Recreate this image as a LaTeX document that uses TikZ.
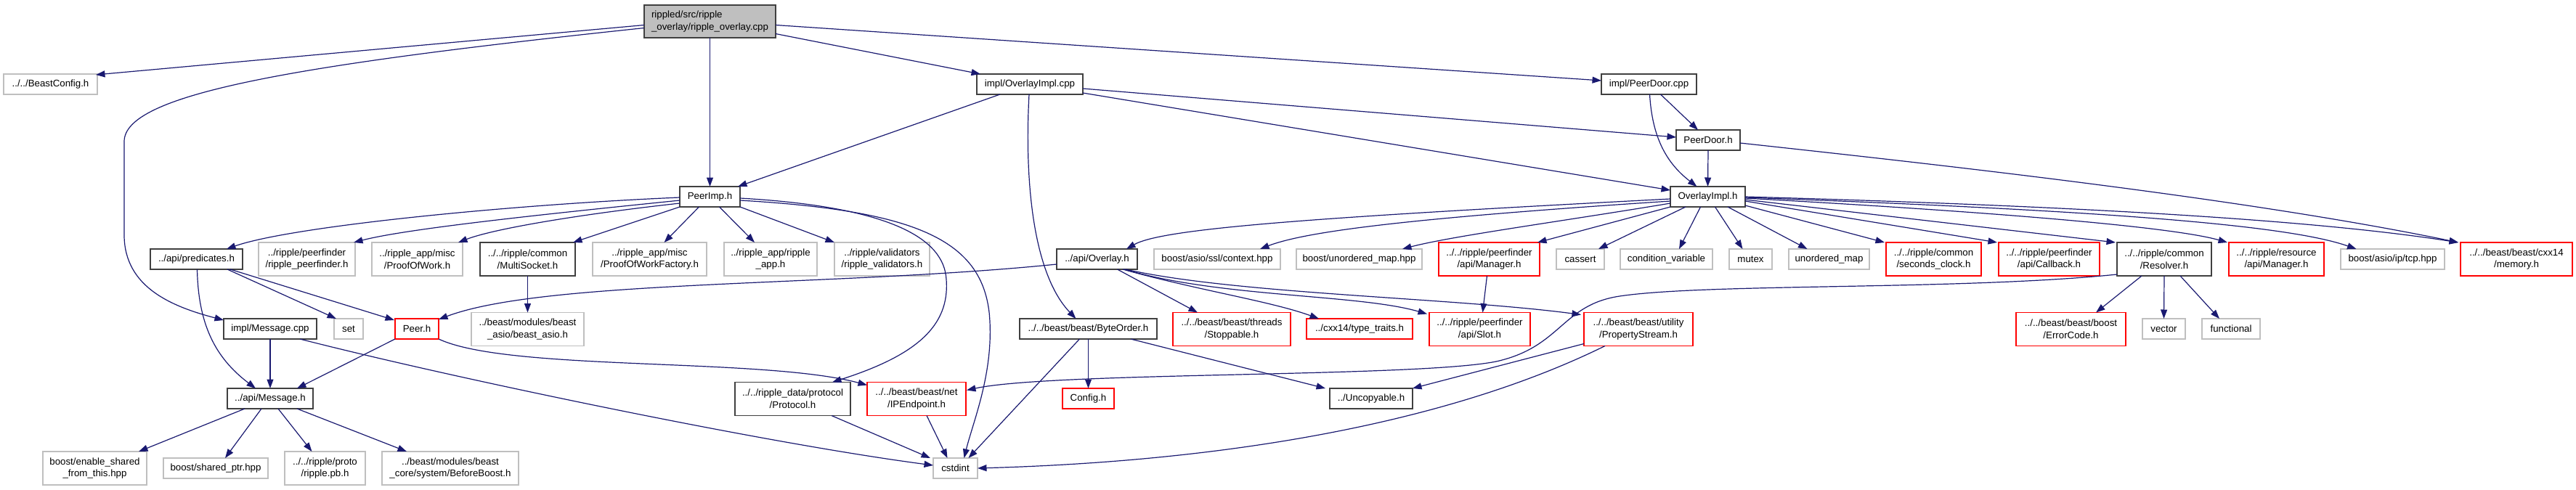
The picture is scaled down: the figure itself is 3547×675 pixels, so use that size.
\documentclass[tikz,border=0pt]{standalone}
\usepackage{fontspec}
\setmainfont{Liberation Sans}
\usetikzlibrary{arrows.meta,calc}
\definecolor{edgecol}{HTML}{191970}
\definecolor{graybd}{HTML}{BFBFBF}
\definecolor{darkbd}{HTML}{404040}
\definecolor{redbd}{HTML}{FF0000}
\definecolor{rootfill}{HTML}{BFBFBF}
\tikzset{
 file/.style={draw, rectangle, inner sep=0pt, outer sep=0pt, line width=1.6bp, align=center, font=\fontsize{13.3bp}{16.7bp}\selectfont},
 grayfile/.style={file, draw=graybd},
 docfile/.style={file, draw=darkbd},
 redfile/.style={file, draw=redbd},
 oneline/.style={minimum height=28bp},
 twoline/.style={minimum height=46bp},
 dep/.style={draw=edgecol, line width=1.2bp, -{Triangle[length=12.5bp,width=9bp]}},
}
\begin{document}
\begin{tikzpicture}[x=1bp,y=-1bp]
\useasboundingbox (0,0) rectangle (3547,675);
% top
\node[docfile, fill=rootfill, minimum width=181bp, minimum height=45bp, align=left] (root) at (977.5,29.5) {rippled/src/ripple\\\_overlay/ripple\_overlay.cpp};
\node[grayfile, oneline, minimum width=129bp] (beastconfig) at (69.5,116) {../../BeastConfig.h};
\node[docfile, oneline, minimum width=146bp] (ovimplcpp) at (1418,116) {impl/OverlayImpl.cpp};
\node[docfile, oneline, minimum width=131bp] (peerdoorcpp) at (2270.5,116) {impl/PeerDoor.cpp};
\node[docfile, oneline, minimum width=88bp] (peerdoorh) at (2352,193) {PeerDoor.h};
\node[docfile, oneline, minimum width=83bp] (peerimp) at (977.5,271) {PeerImp.h};
\node[docfile, oneline, minimum width=103bp] (ovimplh) at (2351.5,271) {OverlayImpl.h};
% row 4
\node[docfile, oneline, minimum width=127bp] (predicates) at (270.5,357) {../api/predicates.h};
\node[grayfile, twoline, minimum width=133bp] (ripplepeerfinder) at (422.5,357) {../ripple/peerfinder\\/ripple\_peerfinder.h};
\node[grayfile, twoline, minimum width=125bp] (pow) at (574.5,357) {../ripple\_app/misc\\/ProofOfWork.h};
\node[docfile, twoline, minimum width=131bp] (multisocket) at (726.5,357) {../../ripple/common\\/MultiSocket.h};
\node[grayfile, twoline, minimum width=157bp] (powfactory) at (894.5,357) {../ripple\_app/misc\\/ProofOfWorkFactory.h};
\node[grayfile, twoline, minimum width=128bp] (rippleapp) at (1061,357) {../ripple\_app/ripple\\\_app.h};
\node[grayfile, twoline, minimum width=131bp] (validators) at (1214.5,357) {../ripple/validators\\/ripple\_validators.h};
\node[docfile, oneline, minimum width=111bp] (overlayh) at (1510.5,357) {../api/Overlay.h};
\node[grayfile, oneline, minimum width=174bp] (sslcontext) at (1676,357) {boost/asio/ssl/context.hpp};
\node[grayfile, oneline, minimum width=173bp] (unorderedmaphpp) at (1871.5,357) {boost/unordered\_map.hpp};
\node[redfile, twoline, minimum width=139bp] (pfmanager) at (2050.5,357) {../../ripple/peerfinder\\/api/Manager.h};
\node[grayfile, oneline, minimum width=66bp] (cassert) at (2176,357) {cassert};
\node[grayfile, oneline, minimum width=127bp] (condvar) at (2294.5,357) {condition\_variable};
\node[grayfile, oneline, minimum width=59bp] (mutex) at (2410.5,357) {mutex};
\node[grayfile, oneline, minimum width=111bp] (unorderedmap) at (2518.5,357) {unordered\_map};
\node[redfile, twoline, minimum width=131bp] (secondsclock) at (2662.5,357) {../../ripple/common\\/seconds\_clock.h};
\node[redfile, twoline, minimum width=139bp] (callback) at (2821.5,357) {../../ripple/peerfinder\\/api/Callback.h};
\node[docfile, twoline, minimum width=130bp] (resolver) at (2980,357) {../../ripple/common\\/Resolver.h};
\node[redfile, twoline, minimum width=131bp] (resmanager) at (3134.5,357) {../../ripple/resource\\/api/Manager.h};
\node[grayfile, oneline, minimum width=143bp] (tcp) at (3294.5,357) {boost/asio/ip/tcp.hpp};
\node[redfile, twoline, minimum width=154bp] (memory) at (3465,357) {../../beast/beast/cxx14\\/memory.h};
% row 5
\node[docfile, oneline, minimum width=128bp] (msgcpp) at (372,453) {impl/Message.cpp};
\node[grayfile, oneline, minimum width=40bp] (set) at (480,453) {set};
\node[redfile, oneline, minimum width=60bp] (peerh) at (574,453) {Peer.h};
\node[grayfile, twoline, minimum width=155bp] (beastasio) at (726.5,453.5) {../beast/modules/beast\\\_asio/beast\_asio.h};
\node[docfile, oneline, minimum width=189bp] (byteorder) at (1498.5,453) {../../beast/beast/ByteOrder.h};
\node[redfile, twoline, minimum width=162bp] (stoppable) at (1696,453.5) {../../beast/beast/threads\\/Stoppable.h};
\node[redfile, oneline, minimum width=146bp] (typetraits) at (1872,453) {../cxx14/type\_traits.h};
\node[redfile, twoline, minimum width=139bp] (slot) at (2037.5,453.5) {../../ripple/peerfinder\\/api/Slot.h};
\node[redfile, twoline, minimum width=150bp] (propstream) at (2256,453.5) {../../beast/beast/utility\\/PropertyStream.h};
\node[redfile, twoline, minimum width=151bp] (errorcode) at (2851.5,453.5) {../../beast/beast/boost\\/ErrorCode.h};
\node[grayfile, oneline, minimum width=59bp] (vector) at (2979.5,453) {vector};
\node[grayfile, oneline, minimum width=80bp] (functional) at (3072,453) {functional};
% row 6
\node[docfile, oneline, minimum width=118bp] (messageh) at (372,549) {../api/Message.h};
\node[docfile, twoline, minimum width=159bp] (protocol) at (1091.5,549.5) {../../ripple\_data/protocol\\/Protocol.h};
\node[redfile, twoline, minimum width=136bp] (ipendpoint) at (1262,549.5) {../../beast/beast/net\\/IPEndpoint.h};
\node[redfile, oneline, minimum width=71bp] (config) at (1498.5,549) {Config.h};
\node[docfile, oneline, minimum width=114bp] (uncopyable) at (1888,549) {../Uncopyable.h};
% row 7
\node[grayfile, twoline, minimum width=143bp] (enableshared) at (130.5,645) {boost/enable\_shared\\\_from\_this.hpp};
\node[grayfile, oneline, minimum width=144bp] (sharedptr) at (297,645) {boost/shared\_ptr.hpp};
\node[grayfile, twoline, minimum width=111bp] (ripplepb) at (447.5,645) {../../ripple/proto\\/ripple.pb.h};
\node[grayfile, twoline, minimum width=188bp] (beforeboost) at (620,645) {../beast/modules/beast\\\_core/system/BeforeBoost.h};
\node[grayfile, oneline, minimum width=61bp] (cstdint) at (1315.5,645) {cstdint};

% edges from root
\draw[dep] ($(root.west)+(0,5)$) -- ($(beastconfig.north east)+(-2,1)$);
\draw[dep] ($(root.west)+(0,9)$) .. controls (400,90) and (171,130) .. (171,195) -- (171,325) .. controls (172,395) and (235,422) .. ($(msgcpp.north west)+(0,2)$);
\draw[dep] (root.south) -- (peerimp.north);
\draw[dep] ($(root.east)+(0,17)$) -- ($(ovimplcpp.north west)+(5,0)$);
\draw[dep] ($(root.east)+(0,5)$) -- ($(peerdoorcpp.west)+(0,-5)$);
% OverlayImpl.cpp
\draw[dep] ($(ovimplcpp.south west)+(32,0)$) -- ($(peerimp.north east)+(-3,0)$);
\draw[dep] ($(ovimplcpp.south)+(-1,0)$) .. controls (1410,260) and (1425,380) .. ($(byteorder.north)+(-17,0)$);
\draw[dep] ($(ovimplcpp.east)+(0,6)$) -- ($(peerdoorh.west)+(0,-4)$);
\draw[dep] ($(ovimplcpp.east)+(0,12)$) -- ($(ovimplh.west)+(0,-9)$);
% PeerDoor
\draw[dep] ($(peerdoorcpp.south)+(16,0)$) -- ($(peerdoorh.north)+(-14,0)$);
\draw[dep] ($(peerdoorcpp.south)+(1,0)$) .. controls (2275,190) and (2295,225) .. ($(ovimplh.north)+(-15,0)$);
\draw[dep] (peerdoorh.south) -- (ovimplh.north);
\draw[dep] ($(peerdoorh.east)+(0,4)$) .. controls (2700,230) and (3100,275) .. ($(memory.north west)+(-3,0)$);
% OverlayImpl.h
\draw[dep] ($(ovimplh.west)+(0,3)$) .. controls (1800,300) and (1600,315) .. ($(overlayh.north east)+(-15,0)$);
\draw[dep] ($(ovimplh.west)+(0,6)$) .. controls (1950,300) and (1800,318) .. ($(sslcontext.north east)+(-28,0)$);
\draw[dep] ($(ovimplh.west)+(0,9)$) .. controls (2150,305) and (2000,325) .. ($(unorderedmaphpp.north east)+(-27,0)$);
\draw[dep] (ovimplh.south west) -- ($(pfmanager.north east)+(-3,0)$);
\draw[dep] ($(ovimplh.south west)+(21,0)$) -- ($(cassert.north east)+(-8,0)$);
\draw[dep] ($(ovimplh.south)+(-10,0)$) -- ($(condvar.north east)+(-46,0)$);
\draw[dep] ($(ovimplh.south)+(10,0)$) -- ($(mutex.north)+(-11,0)$);
\draw[dep] ($(ovimplh.south east)+(-24,0)$) -- ($(unorderedmap.north)+(-30,0)$);
\draw[dep] ($(ovimplh.south east)+(0,-2)$) -- ($(secondsclock.north west)+(-2,0)$);
\draw[dep] ($(ovimplh.east)+(0,6)$) -- ($(callback.north west)+(-2,0)$);
\draw[dep] ($(ovimplh.east)+(0,4)$) -- ($(resolver.north west)+(-2,0)$);
\draw[dep] ($(ovimplh.east)+(0,2)$) .. controls (2800,295) and (3000,315) .. ($(resmanager.north west)+(-2,0)$);
\draw[dep] ($(ovimplh.east)+(0,1)$) .. controls (2900,290) and (3150,310) .. ($(tcp.north)+(-50,0)$);
\draw[dep] (ovimplh.east) .. controls (2900,285) and (3200,305) .. ($(memory.north west)+(-3,0)$);
% PeerImp.h
\draw[dep] ($(peerimp.west)+(0,1)$) .. controls (700,282) and (400,312) .. ($(predicates.north east)+(-22,0)$);
\draw[dep] ($(peerimp.west)+(0,5)$) .. controls (750,295) and (560,315) .. ($(ripplepeerfinder.north east)+(-2,0)$);
\draw[dep] ($(peerimp.west)+(0,9)$) .. controls (800,295) and (680,315) .. ($(pow.north east)+(-6,0)$);
\draw[dep] (peerimp.south west) -- ($(multisocket.north east)+(-3,0)$);
\draw[dep] ($(peerimp.south)+(-15,0)$) -- ($(powfactory.north)+(20,0)$);
\draw[dep] ($(peerimp.south)+(13,0)$) -- ($(rippleapp.north west)+(42,0)$);
\draw[dep] (peerimp.south east) -- (validators.north west);
\draw[dep] ($(peerimp.east)+(0,2)$) .. controls (1230,285) and (1300,330) .. (1303,385) .. controls (1308,450) and (1260,490) .. ($(protocol.north east)+(-25,0)$);
\draw[dep] ($(peerimp.east)+(0,5)$) .. controls (1260,290) and (1350,330) .. (1362,430) .. controls (1370,510) and (1340,580) .. ($(cstdint.north)+(12,0)$);
% Overlay.h
\draw[dep] ($(overlayh.west)+(0,7)$) .. controls (1150,395) and (750,385) .. ($(peerh.north east)+(0,1)$);
\draw[dep] ($(overlayh.south)+(28,0)$) -- ($(stoppable.north west)+(34,0)$);
\draw[dep] ($(overlayh.south east)+(-20,0)$) .. controls (1650,400) and (1750,415) .. ($(typetraits.north west)+(17,0)$);
\draw[dep] ($(overlayh.south east)+(-18,0)$) .. controls (1680,410) and (1870,405) .. ($(slot.north west)+(-3,2)$);
\draw[dep] ($(overlayh.south east)+(-16,0)$) .. controls (1700,405) and (2000,410) .. ($(propstream.north west)+(-4,3)$);
% others
\draw[dep] ($(pfmanager.south)+(-3,0)$) -- ($(slot.north)+(4,0)$);
\draw[dep] ($(propstream.south west)+(0,-3)$) -- (uncopyable.north east);
\draw[dep] ($(propstream.south west)+(29,0)$) .. controls (2000,580) and (1700,635) .. (cstdint.east);
\draw[dep] ($(resolver.south west)+(0,-2)$) .. controls (2700,400) and (2350,390) .. (2230,408) .. controls (2150,420) and (2150,478) .. (2060,498) .. controls (1950,520) and (1450,512) .. ($(ipendpoint.east)+(1,-12)$);
\draw[dep] ($(resolver.south)+(-31,0)$) -- ($(errorcode.north east)+(-41,0)$);
\draw[dep] (resolver.south) -- (vector.north);
\draw[dep] ($(resolver.south)+(22,0)$) -- ($(functional.north)+(-16,0)$);
\draw[dep] (byteorder.south) -- (config.north);
\draw[dep] ($(byteorder.south)+(-12,0)$) -- ($(cstdint.north)+(18,0)$);
\draw[dep] ($(byteorder.south east)+(-36,0)$) -- ($(uncopyable.north west)+(-6,0)$);
\draw[dep] ($(ipendpoint.south)+(14,0)$) -- ($(cstdint.north)+(-11,0)$);
\draw[dep] ($(protocol.south east)+(-26,0)$) -- ($(cstdint.north west)+(-4,0)$);
\draw[dep] ($(msgcpp.south east)+(-23,0)$) .. controls (620,520) and (1050,610) .. ($(cstdint.west)+(0,-4)$);
\draw[dep] (msgcpp.south) -- (messageh.north);
\draw[dep] (peerh.south east) .. controls (700,512) and (1050,492) .. ($(ipendpoint.north west)+(0,4)$);
\draw[dep] (peerh.south west) -- ($(messageh.north east)+(-22,0)$);
\draw[dep] ($(predicates.south)+(1,0)$) .. controls (273,445) and (295,492) .. ($(messageh.north)+(-20,0)$);
\draw[dep] ($(predicates.south east)+(-21,0)$) -- ($(set.north)+(-17,0)$);
\draw[dep] ($(predicates.south east)+(-17,0)$) -- ($(peerh.north west)+(-1,2)$);
\draw[dep] ($(messageh.south west)+(24,0)$) -- ($(enableshared.north east)+(-11,0)$);
\draw[dep] ($(messageh.south)+(-12,0)$) -- ($(sharedptr.north east)+(-59,0)$);
\draw[dep] ($(messageh.south)+(11,0)$) -- ($(ripplepb.north)+(-18,0)$);
\draw[dep] ($(messageh.south east)+(-22,0)$) -- ($(beforeboost.north west)+(34,0)$);
\draw[dep] (multisocket.south) -- (beastasio.north);
\end{tikzpicture}
\end{document}
